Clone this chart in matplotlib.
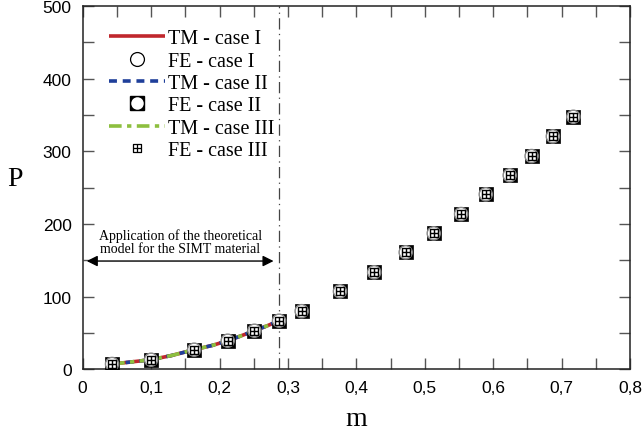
import numpy as np
import matplotlib
matplotlib.use("Agg")
import matplotlib.pyplot as plt
from matplotlib.path import Path
from matplotlib.ticker import MultipleLocator, FuncFormatter
from matplotlib.lines import Line2D

# ---- data ----
m_tm = [0.043, 0.07, 0.10, 0.13, 0.163, 0.19, 0.212, 0.23, 0.251, 0.27, 0.287]
P_tm_I = [7.3, 10.0, 13.2, 19.0, 27.0, 33.0, 39.4, 45.5, 53.1, 60.0, 66.9]
P_tm_II = [7.3, 10.0, 13.2, 19.0, 27.0, 33.0, 39.4, 45.5, 53.1, 60.0, 66.9]
P_tm_III = [7.3, 10.0, 13.2, 19.0, 27.0, 33.0, 39.4, 45.5, 53.1, 60.0, 66.9]

m_fe = [0.043, 0.100, 0.163, 0.212, 0.251, 0.287, 0.320, 0.376, 0.426,
        0.472, 0.513, 0.553, 0.589, 0.624, 0.656, 0.687, 0.717]
P_fe_I = [7.3, 13.2, 27.0, 39.4, 53.1, 66.9, 80.0, 107.3, 133.5,
          161.0, 187.1, 213.7, 240.8, 267.0, 293.5, 320.6, 347.6]
P_fe_II = list(P_fe_I)
P_fe_III = list(P_fe_I)

m_limit = 0.287
arrow_P = 149
arrow_m = (0.006, 0.279)
annot_text = "Application of the theoretical\nmodel for the SIMT material"

labels = ["TM - case I", "FE - case I", "TM - case II", "FE - case II",
          "TM - case III", "FE - case III"]

# ---- figure ----
fig = plt.figure(figsize=(6.43, 4.39), dpi=100)
ax = fig.add_axes([0.1285, 0.1565, 0.8515, 0.8275])

serif = ["Liberation Serif", "DejaVu Serif"]

l1, = ax.plot(m_tm, P_tm_I, color="#c0272d", lw=2.6, solid_capstyle="butt", zorder=3)
l2, = ax.plot(m_tm, P_tm_II, color="#1f3f9a", lw=2.6, ls=(0, (2.2, 1.6)), zorder=4)
l3, = ax.plot(m_tm, P_tm_III, color="#8dbf3f", lw=2.6, ls=(0, (3.5, 1.5, 1.2, 1.5)), zorder=5)

# custom boxed-plus marker
verts = [(-1, -1), (1, -1), (1, 1), (-1, 1), (-1, -1),
         (0, -1), (0, 1), (-1, 0), (1, 0)]
codes = [Path.MOVETO, Path.LINETO, Path.LINETO, Path.LINETO, Path.CLOSEPOLY,
         Path.MOVETO, Path.LINETO, Path.MOVETO, Path.LINETO]
boxplus = Path(verts, codes)

ax.scatter(m_fe, P_fe_II, marker="s", s=95, c="black", edgecolors="black",
           linewidths=0.5, zorder=6)
ax.scatter(m_fe, P_fe_II, marker="o", s=85, c="white", edgecolors="none", zorder=7)
ax.scatter(m_fe, P_fe_I, marker="o", s=90, facecolors="none", edgecolors="#8a8a8a",
           linewidths=1.0, zorder=8)
ax.scatter(m_fe, P_fe_III, marker=boxplus, s=34, facecolors="white",
           edgecolors="black", linewidths=1.0, zorder=9)

# limit line
ax.axvline(m_limit, color="#444444", lw=0.9, ls=(0, (9, 3.5, 1, 3.5)), zorder=2)

# double arrow
ax.annotate("", xy=(arrow_m[0], arrow_P), xytext=(arrow_m[1], arrow_P),
            arrowprops=dict(arrowstyle="<|-|>", color="black", lw=1.0,
                            mutation_scale=16, shrinkA=0, shrinkB=0))
ax.text((arrow_m[0] + arrow_m[1]) / 2, arrow_P + 8, annot_text, ha="center",
        va="bottom", fontsize=10, family=serif, linespacing=1.05)

# legend
h_fe1 = Line2D([], [], ls="none", marker="o", ms=10, mfc="none", mec="black", mew=0.9)
h_fe2a = Line2D([], [], ls="none", marker="s", ms=10, mfc="black", mec="black")
h_fe2b = Line2D([], [], ls="none", marker="o", ms=9, mfc="white", mec="none")
h_fe3 = Line2D([], [], ls="none", marker=boxplus, ms=6, mfc="white", mec="black", mew=0.9)
leg = ax.legend([l1, h_fe1, l2, (h_fe2a, h_fe2b), l3, h_fe3], labels,
                loc="upper left", bbox_to_anchor=(0.022, 0.975), frameon=False,
                prop={"family": serif, "size": 14.5}, handlelength=2.8,
                handletextpad=0.15, labelspacing=0.16, borderaxespad=0.3)

# axes
ax.set_xlim(0, 0.8)
ax.set_ylim(0, 500)
ax.xaxis.set_major_locator(MultipleLocator(0.1))
ax.xaxis.set_minor_locator(MultipleLocator(0.05))
ax.yaxis.set_major_locator(MultipleLocator(100))
ax.yaxis.set_minor_locator(MultipleLocator(50))
ax.xaxis.set_major_formatter(FuncFormatter(lambda v, p: ("%g" % round(v, 2)).replace(".", ",")))
ax.tick_params(which="both", direction="in", top=True, right=True, length=8,
               width=1.0, color="#555555", labelsize=12.5, pad=8)
for lab in ax.get_xticklabels() + ax.get_yticklabels():
    lab.set_family("Liberation Sans")
for sp in ax.spines.values():
    sp.set_linewidth(1.1)
    sp.set_color("#222222")

ax.set_xlabel("m", family=serif, fontsize=20, va="center")
ax.set_ylabel("P", family=serif, fontsize=20, rotation=0, va="center", ha="center")
ax.yaxis.set_label_coords(-0.1235, 0.525)
ax.xaxis.set_label_coords(0.4995, -0.135)

fig.savefig("out.png", dpi=100)
